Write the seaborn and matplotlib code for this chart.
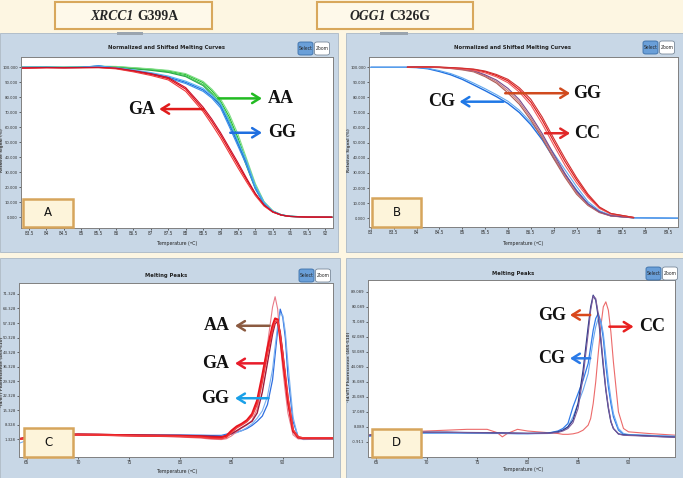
import matplotlib
matplotlib.use("Agg")
import matplotlib.pyplot as plt
from matplotlib.patches import Rectangle, FancyBboxPatch
import seaborn as sns

# ---- panel A: XRCC1 normalized melting curves ----
a_temp = [83.3, 84.0, 84.5, 85.0, 85.5, 86.0, 86.5, 87.0, 87.5, 88.0, 88.5, 88.75,
          89.0, 89.25, 89.5, 89.75, 90.0, 90.25, 90.5, 90.75, 91.0, 91.5, 92.2]
a_aa = [
    [100.0, 100.0, 100.0, 100.1, 100.6, 100.4, 99.6, 98.8, 97.6, 95.2, 89.8, 84.5, 77.5, 67.0, 53.0, 37.0, 21.0, 10.0, 4.2, 1.6, 0.7, 0.3, 0.2],
    [99.8, 100.0, 100.0, 100.0, 100.4, 100.2, 99.3, 98.4, 97.0, 94.4, 88.6, 83.0, 76.0, 65.0, 51.0, 35.0, 20.0, 9.5, 4.0, 1.5, 0.6, 0.3, 0.2],
    [100.0, 100.1, 100.0, 100.2, 100.8, 100.6, 99.8, 99.0, 98.0, 95.8, 90.6, 85.5, 79.0, 69.0, 55.5, 39.0, 22.5, 10.5, 4.4, 1.7, 0.7, 0.3, 0.2],
    [100.0, 100.0, 99.9, 100.0, 100.3, 100.0, 99.0, 98.0, 96.6, 93.8, 87.8, 82.0, 74.5, 63.5, 49.5, 34.0, 19.0, 9.0, 3.8, 1.5, 0.6, 0.3, 0.2],
]
a_gg = [
    [100.0, 100.0, 99.9, 100.0, 100.8, 99.6, 98.0, 96.0, 93.5, 90.0, 85.0, 80.5, 74.5, 62.0, 49.0, 36.0, 20.0, 9.5, 4.0, 1.6, 0.7, 0.2, 0.1],
    [99.9, 100.0, 99.8, 99.9, 101.2, 99.3, 97.6, 95.4, 92.8, 89.2, 84.0, 79.5, 73.0, 60.5, 47.5, 34.5, 19.0, 9.0, 3.8, 1.5, 0.6, 0.2, 0.1],
    [100.0, 100.0, 100.0, 100.1, 100.5, 99.8, 98.3, 96.5, 94.2, 90.8, 86.0, 81.5, 76.0, 64.0, 51.0, 37.5, 21.0, 10.0, 4.2, 1.7, 0.7, 0.2, 0.1],
]
a_ga = [
    [99.5, 99.8, 99.7, 99.8, 99.9, 99.3, 97.5, 95.3, 92.5, 85.5, 72.0, 64.0, 55.0, 45.0, 35.0, 25.0, 15.5, 8.0, 3.6, 1.5, 0.6, 0.2, 0.1],
    [99.4, 99.7, 99.6, 99.7, 99.8, 99.0, 97.0, 94.6, 91.6, 84.0, 70.5, 62.0, 53.0, 43.0, 33.0, 23.5, 14.5, 7.5, 3.4, 1.4, 0.6, 0.2, 0.1],
    [99.6, 99.9, 99.8, 99.9, 100.0, 99.5, 97.8, 95.8, 93.2, 86.5, 73.5, 65.5, 56.5, 46.5, 36.5, 26.0, 16.0, 8.3, 3.7, 1.5, 0.6, 0.2, 0.1],
]

# ---- panel B: OGG1 normalized melting curves ----
b_temp = [83.8, 84.0, 84.25, 84.5, 84.75, 85.0, 85.25, 85.5, 85.75, 86.0, 86.25,
          86.5, 86.75, 87.0, 87.25, 87.5, 87.75, 88.0, 88.25, 88.75]
b_cg_temp = [83.0, 83.8, 84.0, 84.25, 84.5, 84.75, 85.0, 85.25, 85.5, 85.75, 86.0,
             86.25, 86.5, 86.75, 87.0, 87.25, 87.5, 87.75, 88.0, 88.25, 88.75, 89.75]
b_cg = [
    [100.0, 100.0, 99.8, 99.0, 97.2, 95.0, 92.0, 88.3, 84.5, 80.5, 76.0, 70.0, 62.0, 52.0, 40.0, 29.0, 18.5, 9.5, 4.5, 1.7, 0.3, 0.0],
    [100.0, 100.0, 99.9, 99.3, 97.8, 95.8, 93.0, 89.5, 85.8, 81.8, 77.5, 71.5, 63.5, 54.0, 43.0, 32.0, 21.0, 11.0, 5.0, 1.9, 0.3, 0.0],
]
b_gg = [
    [100.0, 100.2, 100.0, 99.8, 99.2, 98.3, 97.0, 93.8, 89.5, 83.0, 75.5, 65.0, 53.0, 39.5, 27.0, 16.0, 8.5, 3.8, 1.5, 0.3],
    [100.0, 100.1, 100.0, 99.9, 99.4, 98.6, 97.4, 94.4, 90.5, 84.5, 77.0, 66.5, 54.5, 41.0, 28.0, 17.0, 9.0, 4.0, 1.6, 0.3],
    [100.3, 100.4, 100.2, 100.0, 99.5, 98.8, 97.8, 95.0, 91.5, 86.0, 78.5, 68.0, 56.0, 42.5, 29.5, 18.0, 9.5, 4.2, 1.7, 0.3],
]
b_cc = [
    [100.0, 100.0, 100.2, 100.0, 99.7, 99.2, 98.5, 97.0, 94.5, 91.0, 85.0, 77.0, 65.0, 51.0, 37.5, 25.5, 15.0, 7.0, 3.0, 0.5],
    [100.0, 100.0, 100.1, 99.9, 99.5, 98.9, 98.0, 96.3, 93.6, 89.8, 83.5, 75.0, 62.5, 48.5, 35.0, 23.5, 13.8, 6.5, 2.8, 0.5],
    [100.0, 100.1, 100.2, 100.1, 99.8, 99.4, 98.8, 97.5, 95.2, 92.0, 86.4, 78.8, 67.0, 53.0, 39.5, 27.0, 16.0, 7.5, 3.2, 0.5],
]

# ---- panel C: XRCC1 melting peaks ----
c_temp = [64.3, 66, 68, 70, 72, 74, 76, 78, 80, 82, 83, 84, 84.5, 85, 85.5, 86, 86.5,
          87, 87.5, 88, 88.5, 89, 89.25, 89.5, 89.75, 90, 90.25, 90.5, 91, 91.5, 92, 93, 94.9]
c_ga = [
    [1.5, 2.8, 3.3, 3.6, 3.5, 3.3, 3.1, 3.0, 2.9, 2.6, 2.2, 2.2, 3.0, 5.5, 7.5, 8.8, 10.5, 13.5, 20, 32, 45, 56, 59.5, 59, 50, 40, 30, 20, 5.5, 2.3, 1.8, 1.8, 1.8],
    [1.3, 2.6, 3.2, 3.5, 3.4, 3.2, 3.0, 2.9, 2.7, 2.3, 1.8, 1.6, 2.2, 4.5, 6.8, 8.2, 9.8, 12.5, 18, 29, 42, 54, 58, 58.5, 52, 43, 33, 22, 6, 2.5, 2.0, 2.0, 2.0],
]
c_aa = [
    [1.2, 2.7, 3.2, 3.4, 3.3, 3.1, 2.9, 2.7, 2.4, 1.9, 1.4, 1.2, 1.6, 3.0, 5.0, 6.8, 8.2, 10.5, 16, 29, 47, 65, 70, 64, 48, 35, 24, 14, 3.5, 1.5, 1.6, 1.6, 1.6],
    [1.6, 3.0, 3.5, 3.8, 3.7, 3.5, 3.4, 3.3, 3.2, 3.0, 2.8, 2.6, 3.0, 4.0, 5.5, 7.0, 8.5, 10.0, 14, 24, 38, 52, 57, 58, 53, 43, 31, 19, 5, 2.2, 2.0, 2.0, 2.0],
]
c_gg = [
    [1.5, 3.0, 3.5, 3.7, 3.6, 3.5, 3.4, 3.4, 3.4, 3.3, 3.2, 3.2, 3.8, 4.2, 4.8, 5.5, 6.5, 8.0, 10, 12.5, 18, 30, 42, 54, 64, 60, 50, 32, 10, 2.5, 1.5, 1.8, 1.8],
    [-0.5, 2.5, 3.2, 3.4, 3.3, 3.2, 3.1, 3.0, 2.9, 2.7, 2.6, 2.8, 3.3, 3.8, 4.5, 5.5, 7.0, 8.8, 11.5, 15, 22, 35, 46, 56, 62, 61, 53, 38, 12, 2.0, 1.2, 1.3, 1.3],
]
c_yticks = [1.328, 8.328, 15.328, 22.328, 29.328, 36.328, 43.328, 50.328, 57.328, 64.328, 71.328]

# ---- panel D: OGG1 melting peaks ----
d_temp = [64.3, 66, 68, 70, 72, 74, 76, 77, 77.5, 78, 79, 80, 82, 83, 83.5, 84, 84.5, 85,
          85.5, 86, 86.25, 86.5, 86.75, 87, 87.25, 87.5, 87.75, 88, 88.25, 88.5, 89, 89.5,
          90, 91, 92, 94.6]
d_gg = [
    [3.0, 4.0, 4.5, 4.8, 4.8, 4.6, 4.5, 4.4, 4.4, 4.3, 4.2, 4.1, 4.2, 5.0, 6.0, 8.0, 12.0, 22.0, 42.0, 68.0, 80.0, 87.0, 84.0, 74.0, 60.0, 44.0, 30.0, 19.0, 11.0, 7.0, 3.8, 3.2, 3.0, 2.8, 2.5, 1.8],
    [2.8, 3.8, 4.4, 4.7, 4.7, 4.5, 4.4, 4.3, 4.3, 4.2, 4.1, 4.0, 4.1, 4.6, 5.5, 7.0, 10.5, 19.0, 38.0, 64.0, 78.0, 86.5, 85.0, 76.0, 62.0, 46.0, 31.0, 20.0, 11.5, 7.0, 3.6, 3.0, 2.8, 2.6, 2.3, 1.7],
]
d_cg = [
    [2.5, 3.5, 4.0, 4.3, 4.4, 4.3, 4.2, 4.2, 4.2, 4.1, 4.0, 4.0, 4.2, 5.5, 7.0, 10.0, 20.0, 28.0, 36.0, 46.0, 56.0, 66.0, 73.0, 76.0, 71.0, 61.0, 45.0, 32.0, 22.0, 14.0, 6.0, 3.5, 3.2, 3.0, 2.8, 2.2],
    [2.2, 3.3, 3.8, 4.1, 4.2, 4.1, 4.0, 4.0, 4.0, 3.9, 3.8, 3.8, 4.0, 5.0, 6.0, 8.0, 14.0, 22.0, 30.0, 40.0, 50.0, 60.0, 68.0, 73.0, 72.0, 64.0, 50.0, 36.0, 25.0, 16.0, 7.0, 4.0, 3.4, 3.1, 2.9, 2.3],
]
d_cc = [
    [3.0, 4.5, 5.0, 5.5, 6.0, 6.5, 6.5, 4.5, 2.0, 4.0, 6.5, 5.5, 4.5, 4.0, 3.5, 3.5, 3.8, 4.5, 6.0, 9.0, 13.0, 22.0, 35.0, 52.0, 68.0, 80.0, 83.0, 78.0, 65.0, 47.0, 17.0, 7.0, 5.0, 4.5, 4.0, 3.0],
]
d_yticks = [-0.911, 8.089, 17.089, 26.089, 35.089, 44.089, 53.089, 62.089, 71.089, 80.089, 89.089]

ab_yticks = [0, 10, 20, 30, 40, 50, 60, 70, 80, 90, 100]
a_xticks = [83.5, 84, 84.5, 85, 85.5, 86, 86.5, 87, 87.5, 88, 88.5, 89, 89.5, 90, 90.5, 91, 91.5, 92]
b_xticks = [83, 83.5, 84, 84.5, 85, 85.5, 86, 86.5, 87, 87.5, 88, 88.5, 89, 89.5]
cd_xticks = [65, 70, 75, 80, 85, 90]

W, H = 683, 478
CREAM = "#fdf6e2"
FRAME = "#c8d7e6"
SERIF = "Liberation Serif"

sns.set_theme(style="white")
plt.rcParams["font.family"] = ["DejaVu Sans"]

fig = plt.figure(figsize=(W / 100, H / 100), dpi=100)
fig.patch.set_facecolor(CREAM)


def frac(x0, y0, x1, y1):
    return [x0 / W, 1 - y1 / H, (x1 - x0) / W, (y1 - y0) / H]


def fx(px):
    return px / W


def fy(py):
    return 1 - py / H


def panel_frame(x0, y0, x1, y1):
    fig.add_artist(Rectangle((fx(x0), fy(y1)), (x1 - x0) / W, (y1 - y0) / H,
                             transform=fig.transFigure, facecolor=FRAME,
                             edgecolor="#aab8c6", lw=0.6, zorder=-2))


def buttons(x0, y0):
    # "Select" (pressed, blue) and "Zoom" buttons at the top right
    fig.add_artist(FancyBboxPatch((fx(x0), fy(y0 + 13)), 15 / W, 13 / H,
                                  boxstyle="round,pad=0,rounding_size=0.004",
                                  transform=fig.transFigure, facecolor="#6a9fd8",
                                  edgecolor="#3a6ea8", lw=0.6, zorder=3))
    fig.add_artist(FancyBboxPatch((fx(x0 + 16.5), fy(y0 + 13)), 15 / W, 13 / H,
                                  boxstyle="round,pad=0,rounding_size=0.004",
                                  transform=fig.transFigure, facecolor="white",
                                  edgecolor="#7a8a9a", lw=0.6, zorder=3))
    fig.text(fx(x0 + 7.5), fy(y0 + 6.5), "Select", fontsize=3.6, fontstretch="condensed",
             ha="center", va="center", zorder=4)
    fig.text(fx(x0 + 24), fy(y0 + 6.5), "Zoom", fontsize=3.6, fontstretch="condensed",
             ha="center", va="center", zorder=4)


def letter_box(x0, y0, x1, y1, letter):
    fig.add_artist(Rectangle((fx(x0), fy(y1)), (x1 - x0) / W, (y1 - y0) / H,
                             transform=fig.transFigure, facecolor="#fdf4da",
                             edgecolor="#d6a55c", lw=1.8, zorder=5))
    fig.text(fx((x0 + x1) / 2), fy((y0 + y1) / 2), letter, fontsize=8.5,
             ha="center", va="center", zorder=6, color="#111111")


def style_axes(ax, xlim, ylim, xticks, yticks, ylabels):
    ax.set_facecolor("white")
    ax.set_xlim(*xlim)
    ax.set_ylim(*ylim)
    ax.set_xticks(xticks)
    ax.set_xticklabels([f"{t:g}" for t in xticks])
    ax.set_yticks(yticks)
    ax.set_yticklabels(ylabels)
    ax.tick_params(length=1.5, width=0.5, pad=0.8, colors="#333333",
                   bottom=True, left=True)
    ax.tick_params(axis="x", labelsize=3.4)
    ax.tick_params(axis="y", labelsize=3.1)
    for lab in ax.get_xticklabels() + ax.get_yticklabels():
        lab.set_fontstretch("condensed")
    for s in ax.spines.values():
        s.set_color("#808080")
        s.set_linewidth(0.7)
    ax.set_xlabel("")
    ax.set_ylabel("")


def curves(ax, temps, group, colors, widths):
    for vals, c, lw in zip(group, colors, widths):
        sns.lineplot(x=temps, y=vals, ax=ax, color=c, linewidth=lw, legend=False)


def arrow(ax, start, end, color, label, label_x):
    ax.annotate("", xy=end, xytext=start,
                arrowprops=dict(arrowstyle="->,head_length=0.45,head_width=0.28",
                                color=color, lw=1.8, shrinkA=0, shrinkB=0))
    ax.text(label_x, start[1], label, fontsize=13, fontweight="bold", family=SERIF,
            ha="center", va="center", color="#111111")


# top title boxes
for x0, x1, ital, rest, split in [(55, 212, "XRCC1", "G399A", 134),
                                  (317, 473, "OGG1", "C326G", 386)]:
    fig.add_artist(Rectangle((fx(x0), fy(29)), (x1 - x0) / W, 27 / H,
                             transform=fig.transFigure, facecolor="#fef9ea",
                             edgecolor="#d8a85c", lw=1.5, zorder=3))
    fig.text(fx(split), fy(16), ital, fontsize=9.8, family=SERIF, style="italic",
             fontweight="bold", ha="right", va="center", zorder=4)
    fig.text(fx(split + 3.5), fy(16), rest, fontsize=9.8, family=SERIF,
             fontweight="bold", ha="left", va="center", zorder=4)

# panel frames
panel_frame(0, 33, 338, 252)
panel_frame(346, 33, 683, 252)
panel_frame(0, 258, 340, 478)
panel_frame(346, 258, 683, 478)
for x0, x1 in [(117, 143), (380, 408)]:
    fig.add_artist(Rectangle((fx(x0), fy(35)), (x1 - x0) / W, 2.5 / H,
                             transform=fig.transFigure, facecolor="#9aa4ae",
                             edgecolor="none", zorder=-1))

# ---- A ----
axA = fig.add_axes(frac(21, 57, 333, 228))
curves(axA, a_temp, a_aa, ["#1fbf2a", "#45cc50", "#7fdc85", "#2aa84a"], [0.8, 0.8, 0.8, 0.8])
curves(axA, a_temp, a_gg, ["#1f6fe0", "#3a92ea", "#55b5f0"], [0.9, 0.8, 0.8])
curves(axA, a_temp, a_ga, ["#e3141b", "#ef3a3a", "#c8102a"], [0.9, 0.8, 0.8])
style_axes(axA, (83.27, 92.23), (-7.1, 106.9), a_xticks, ab_yticks,
           [f"{v:.3f}" for v in ab_yticks])
arrow(axA, (88.94, 79.3), (90.19, 79.3), "#22bb22", "AA", 90.74)
arrow(axA, (89.28, 56.4), (90.19, 56.4), "#1f6fe0", "GG", 90.76)
arrow(axA, (88.51, 72.2), (87.24, 72.2), "#e01b1b", "GA", 86.74)

# ---- B ----
axB = fig.add_axes(frac(369, 57, 678, 227))
curves(axB, b_cg_temp, b_cg, ["#1f6fe0", "#62a8ee"], [1.0, 0.8])
curves(axB, b_temp, b_gg, ["#b0605a", "#c87878", "#7a4a8a"], [0.9, 0.8, 0.8])
curves(axB, b_temp, b_cc, ["#e02020", "#f05a5a", "#d03030"], [0.9, 0.8, 0.8])
style_axes(axB, (82.96, 89.72), (-5.8, 106.8), b_xticks, ab_yticks,
           [f"{v:.3f}" for v in ab_yticks])
arrow(axB, (85.94, 82.8), (87.36, 82.8), "#d04a1e", "GG", 87.74)
arrow(axB, (86.81, 56.3), (87.36, 56.3), "#e02828", "CC", 87.74)
arrow(axB, (85.9, 77.2), (84.94, 77.2), "#1f78e6", "CG", 84.55)

# ---- C ----
axC = fig.add_axes(frac(19, 283, 333, 457))
curves(axC, c_temp, c_gg, ["#2f6fe0", "#7ab0f0"], [0.9, 0.8])
curves(axC, c_temp, c_aa, ["#e87a88", "#9c1c3c"], [0.8, 1.0])
curves(axC, c_temp, c_ga, ["#e8141e", "#f03c3c"], [1.6, 1.0])
style_axes(axC, (64.25, 94.9), (-7.2, 76.6), cd_xticks, c_yticks,
           [f"{v:.3f}" for v in c_yticks])
arrow(axC, (88.7, 56.0), (85.34, 56.0), "#8b5a40", "AA", 83.55)
arrow(axC, (88.27, 37.9), (85.34, 37.9), "#e81c2a", "GA", 83.4)
arrow(axC, (88.6, 21.1), (85.34, 21.1), "#1aa0e8", "GG", 83.4)

# ---- D ----
axD = fig.add_axes(frac(368, 280, 675, 457))
curves(axD, d_temp, d_cc, ["#ec6a6a"], [0.8])
curves(axD, d_temp, d_cg, ["#2f7ae8", "#6aa8f0"], [0.9, 0.8])
curves(axD, d_temp, d_gg, ["#2a3a8a", "#7a5a9a"], [0.9, 0.8])
style_axes(axD, (64.2, 94.6), (-10.1, 96.1), cd_xticks, d_yticks,
           [f"{v:.3f}" for v in d_yticks])
arrow(axD, (86.2, 75.1), (84.2, 75.1), "#d9481c", "GG", 82.4)
arrow(axD, (88.1, 68.1), (90.5, 68.1), "#e82020", "CC", 92.3)
arrow(axD, (86.2, 49.1), (84.2, 49.1), "#2a7ae8", "CG", 82.4)

# panel titles, axis labels, buttons
for cx, cy, txt in [(167, 48, "Normalized and Shifted Melting Curves"),
                    (512, 48, "Normalized and Shifted Melting Curves"),
                    (166, 276, "Melting Peaks"), (513, 273, "Melting Peaks")]:
    fig.text(fx(cx), fy(cy), txt, fontsize=3.8, fontweight="bold", ha="center",
             va="center", color="#222222")
for cx, cy in [(177, 243), (523, 243), (177, 471), (523, 470)]:
    fig.text(fx(cx), fy(cy), "Temperature (ºC)", fontsize=3.8, fontstretch="condensed",
             ha="center", va="center", color="#222222")
for cx, cy, txt in [(1.8, 150, "Relative Signal (%)"), (349, 150, "Relative Signal (%)"),
                    (1.8, 372, "-(d/dT) Fluorescence (465-510)"),
                    (349, 367, "-(d/dT) Fluorescence (465-510)")]:
    fig.text(fx(cx), fy(cy), txt, fontsize=2.9, fontweight="bold", rotation=90,
             ha="center", va="center", color="#444444")
buttons(298, 42)
buttons(643, 41)
buttons(299, 269)
buttons(646, 267)

letter_box(23, 199, 73, 227, "A")
letter_box(372, 198, 421, 227, "B")
letter_box(24, 428, 73, 457, "C")
letter_box(372, 429, 421, 457, "D")

fig.savefig("out.png", dpi=100, facecolor=fig.get_facecolor())
